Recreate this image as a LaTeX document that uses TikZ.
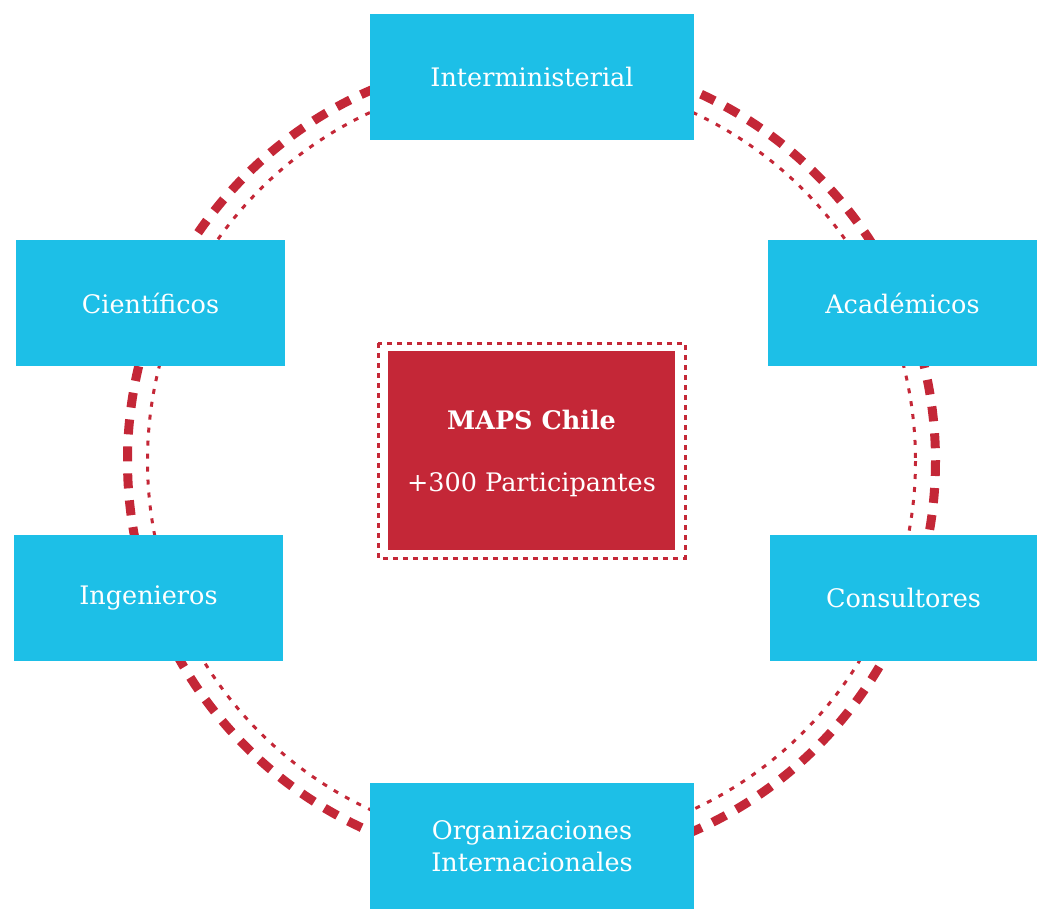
\documentclass[tikz,border=0pt]{standalone}
\usepackage{fontspec}
\setmainfont{DejaVu Serif}
\usepackage{tikz}

\definecolor{mapscyan}{HTML}{1DBFE7}
\definecolor{mapsred}{HTML}{C42737}

\begin{document}
\begin{tikzpicture}[x=1pt,y=-1pt,
	  group/.style={fill=mapscyan, text=white, minimum width=269pt, minimum height=126pt, inner sep=0pt, align=center, font=\fontsize{25.5}{32}\selectfont},
	  wide/.style={group, minimum width=324pt}]
	  \useasboundingbox (0, 0) rectangle (1037, 919);
	  % central box with its dotted frame
	  \node[fill=mapsred, minimum width=287pt, minimum height=199pt, inner sep=0pt] (hub) at (531.5, 450.5) {};
	  \draw[mapsred, line width=3pt, dash pattern=on 5pt off 5pt] (378, 343) rectangle (685, 558);
	  \node[text=white, font=\fontsize{25.5}{32}\bfseries] (name) at (531.5, 420) {MAPS Chile};
	  \node[text=white, font=\fontsize{25.5}{32}\selectfont] (count) at (531.5, 485) {+300 Participantes};
	  % the two rings behind the groups
	  \draw[mapsred, line width=9pt, dash pattern=on 15pt off 12pt] (531.5, 461) circle (404);
	  \draw[mapsred, line width=3pt, dash pattern=on 5pt off 8pt] (531.5, 461) circle (384);
	  % groups around the ring
	  \node[wide] (inter) at (532, 77) {Interministerial};
	  \node[group] (cien) at (150.5, 303) {Científicos};
	  \node[group] (acad) at (902.5, 303) {Académicos};
	  \node[group] (inge) at (148.5, 598) {Ingenieros};
	  \node[group, minimum width=267pt] (cons) at (903.5, 598) {Consultores};
	  \node[wide] (org) at (532, 846) {Organizaciones\\Internacionales};
	\end{tikzpicture}
\end{document}
